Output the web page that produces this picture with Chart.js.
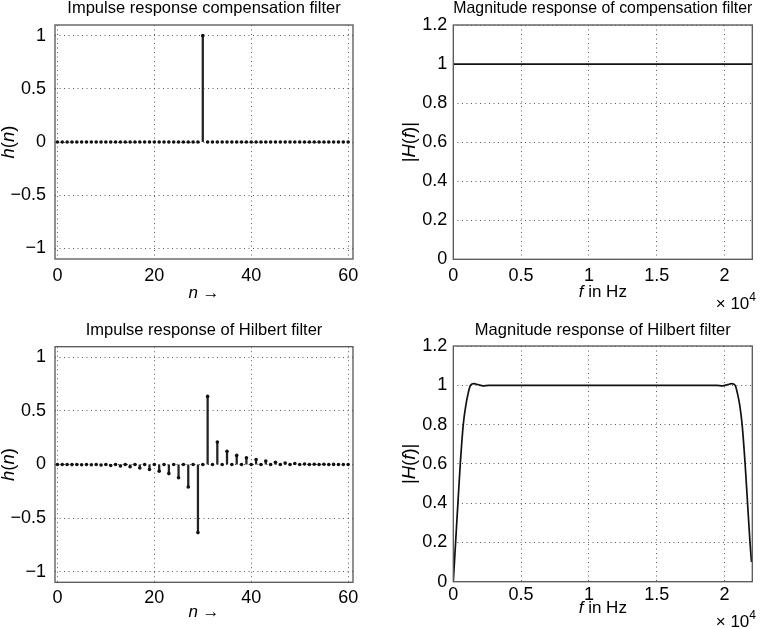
<!DOCTYPE html>
<html>
<head>
<meta charset="utf-8">
<script src="https://cdn.jsdelivr.net/npm/chart.js@4"></script>
<style>
  body { margin: 0; background: #fff; }
  #wrap { position: relative; width: 760px; height: 629px; }
  canvas { position: absolute; }
</style>
</head>
<body>
<div id="wrap">
  <canvas id="c1" width="380" height="320" style="left:0;top:0"></canvas>
  <canvas id="c2" width="380" height="320" style="left:380px;top:0"></canvas>
  <canvas id="c3" width="380" height="309" style="left:0;top:320px"></canvas>
  <canvas id="c4" width="380" height="309" style="left:380px;top:320px"></canvas>
</div>
<script>
// Sample index n
const nIndex = [0, 1, 2, 3, 4, 5, 6, 7, 8, 9, 10, 11, 12, 13, 14, 15, 16, 17, 18, 19, 20,
    21, 22, 23, 24, 25, 26, 27, 28, 29, 30, 31, 32, 33, 34, 35, 36, 37, 38, 39, 40,
    41, 42, 43, 44, 45, 46, 47, 48, 49, 50, 51, 52, 53, 54, 55, 56, 57, 58, 59, 60];

// Impulse response of compensation filter (delay)
const compImpulse = [0, 0, 0, 0, 0, 0, 0, 0, 0, 0, 0, 0, 0, 0, 0, 0, 0, 0, 0, 0, 0,
    0, 0, 0, 0, 0, 0, 0, 0, 0, 1, 0, 0, 0, 0, 0, 0, 0, 0, 0, 0,
    0, 0, 0, 0, 0, 0, 0, 0, 0, 0, 0, 0, 0, 0, 0, 0, 0, 0, 0, 0];

// Impulse response of Hilbert filter
const hilbertImpulse = [0, 0, 0, -0.001, 0, -0.002, 0, -0.003, 0, -0.005, 0,
    -0.009, 0, -0.014, 0, -0.021, 0, -0.032, 0, -0.046, 0,
    -0.062, 0, -0.085, 0, -0.124, 0, -0.21, 0, -0.636, 0,
    0.636, 0, 0.21, 0, 0.124, 0, 0.085, 0, 0.062, 0,
    0.046, 0, 0.032, 0, 0.021, 0, 0.014, 0, 0.009, 0,
    0.005, 0, 0.003, 0, 0.002, 0, 0.001, 0, 0, 0];

// Magnitude response of compensation filter
const compFreq = [0, 22050];
const compMag = [1, 1];

// Magnitude response of Hilbert filter
const hilbFreq = [0, 170, 340, 515, 735, 930, 1100, 1270, 1520, 1800, 2200, 2600,
    19450, 19850, 20250, 20530, 20780, 20950, 21120, 21300, 21520, 21700, 21880, 21990];
const hilbMag = [0, 0.2, 0.4, 0.6, 0.8, 0.9, 0.96, 1.0, 1.008, 1.004, 0.997, 1.0,
    1.0, 0.997, 1.004, 1.008, 1.0, 0.96, 0.9, 0.8, 0.6, 0.4, 0.2, 0.1];

// Tick labels
const nTicks = [0, 20, 40, 60];
const hTicks = [-1, -0.5, 0, 0.5, 1];
const fTicks = [0, 5000, 10000, 15000, 20000];
const magTicks = [0, 0.2, 0.4, 0.6, 0.8, 1, 1.2];

const FONT = '"Liberation Sans", Arial, Helvetica, sans-serif';
Chart.defaults.font.family = FONT;
Chart.defaults.color = '#000';

function fmt(v) {
    return String(Math.round(v * 10) / 10).replace('-', '\u2212');
}

// Draw text made of normal and italic pieces, centred at the origin
function drawSegs(ctx, segs, size) {
    let w = 0;
    segs.forEach(s => {
        ctx.font = (s[1] ? 'italic ' : '') + size + 'px ' + FONT;
        w += ctx.measureText(s[0]).width;
    });
    let x = -w / 2;
    segs.forEach(s => {
        ctx.font = (s[1] ? 'italic ' : '') + size + 'px ' + FONT;
        ctx.fillText(s[0], x, 0);
        x += ctx.measureText(s[0]).width;
    });
}

const richText = {
    id: 'richText',
    afterDraw(chart, args, opts) {
        const ctx = chart.ctx, a = chart.chartArea;
        ctx.save();
        ctx.fillStyle = '#000';
        ctx.textBaseline = 'middle';
        ctx.textAlign = 'left';
        ctx.save();
        ctx.translate((a.left + a.right) / 2, opts.xLabelY);
        drawSegs(ctx, opts.xLabel, 17);
        ctx.restore();
        ctx.save();
        ctx.translate(opts.yLabelX, (a.top + a.bottom) / 2);
        ctx.rotate(-Math.PI / 2);
        drawSegs(ctx, opts.yLabel, 18.5);
        ctx.restore();
        if (opts.exponent) {
            ctx.textAlign = 'right';
            ctx.font = '12px ' + FONT;
            ctx.fillText('4', 376, opts.expY - 6);
            const w4 = ctx.measureText('4').width;
            ctx.font = '17px ' + FONT;
            ctx.fillText('\u00d7 10', 376 - w4, opts.expY);
        }
        ctx.restore();
    }
};

const frame = {
    id: 'frame',
    afterDatasetsDraw(chart) {
        const ctx = chart.ctx, a = chart.chartArea;
        ctx.save();
        ctx.strokeStyle = '#555';
        ctx.lineWidth = 1.3;
        ctx.strokeRect(a.left, a.top, a.right - a.left, a.bottom - a.top);
        ctx.restore();
    }
};

function gridOpts() {
    return { color: '#333', lineWidth: 0.8, drawTicks: false, offset: false };
}

function baseScales(cfg) {
    return {
        x: {
            type: 'linear',
            min: cfg.xMin,
            max: cfg.xMax,
            offset: false,
            grid: gridOpts(),
            border: { display: false, dash: [1, 3.5] },
            ticks: {
                padding: cfg.xTickPad,
                font: { size: 18 },
                maxRotation: 0,
                autoSkip: false,
                callback: cfg.xFmt
            },
            afterBuildTicks: s => { s.ticks = cfg.xTicks.map(v => ({ value: v })); },
            afterFit: s => { s.height = cfg.xHeight; }
        },
        y: {
            type: 'linear',
            min: cfg.yMin,
            max: cfg.yMax,
            grid: gridOpts(),
            border: { display: false, dash: [1, 3.5] },
            ticks: { padding: cfg.yTickPad, font: { size: 18 }, autoSkip: false, callback: v => fmt(v) },
            afterBuildTicks: s => { s.ticks = cfg.yTicks.map(v => ({ value: v })); },
            afterFit: s => { s.width = cfg.yWidth; }
        }
    };
}

function basePlugins(cfg) {
    return {
        legend: { display: false },
        tooltip: { enabled: false },
        title: {
            display: true,
            fullSize: false,
            align: 'center',
            text: cfg.title,
            font: { size: 16.5, weight: 'normal', lineHeight: 1 },
            padding: { top: cfg.titleTop, bottom: cfg.titleBottom }
        },
        richText: cfg.rich
    };
}

function stemChart(id, values, cfg) {
    const pts = nIndex.map((n, i) => ({ x: n, y: values[i] }));
    return new Chart(document.getElementById(id), {
        type: 'bar',
        data: {
            datasets: [
                {
                    type: 'scatter',
                    data: pts,
                    pointRadius: 1.8,
                    pointBackgroundColor: '#111',
                    pointBorderWidth: 0,
                    order: 1
                },
                {
                    type: 'bar',
                    data: pts,
                    backgroundColor: '#222',
                    barThickness: 1.6,
                    grouped: false,
                    order: 2
                }
            ]
        },
        options: {
            responsive: false,
            animation: false,
            events: [],
            layout: { padding: { left: 0, right: 27, top: 0, bottom: 0 } },
            scales: baseScales(Object.assign({
                xMin: -0.5, xMax: 61, xTicks: nTicks, xFmt: v => String(v),
                yMin: -1.1, yMax: 1.1, yTicks: hTicks, yWidth: 55, yTickPad: 9
            }, cfg)),
            plugins: basePlugins(Object.assign({
                rich: {
                    xLabel: [['n', true], [' \u2192', false]],
                    yLabel: [['h', true], ['(', false], ['n', true], [')', false]],
                    xLabelY: cfg.xLabelY,
                    yLabelX: 9
                }
            }, cfg))
        },
        plugins: [frame, richText]
    });
}

function magChart(id, freq, mag, cfg) {
    return new Chart(document.getElementById(id), {
        type: 'line',
        data: {
            datasets: [{
                data: freq.map((f, i) => ({ x: f, y: mag[i] })),
                borderColor: '#111',
                borderWidth: 1.7,
                pointRadius: 0,
                fill: false,
                cubicInterpolationMode: 'monotone'
            }]
        },
        options: {
            responsive: false,
            animation: false,
            events: [],
            layout: { padding: { left: 0, right: 7.7, top: 0, bottom: 0 } },
            scales: baseScales(Object.assign({
                xMin: 0, xMax: 22050, xTicks: fTicks, xFmt: v => fmt(v / 10000),
                yMin: 0, yMax: 1.2, yTicks: magTicks, yWidth: 73.3, yTickPad: 6
            }, cfg)),
            plugins: basePlugins(Object.assign({
                rich: {
                    xLabel: [['f', true], [' in Hz', false]],
                    yLabel: [['|', false], ['H', true], ['(', false], ['f', true], [')|', false]],
                    xLabelY: cfg.xLabelY,
                    yLabelX: 30,
                    exponent: true,
                    expY: cfg.expY
                }
            }, cfg))
        },
        plugins: [frame, richText]
    });
}

stemChart('c1', compImpulse, {
    title: 'Impulse response compensation filter',
    titleTop: 0, titleBottom: 8.5, xHeight: 61, xTickPad: 6, xLabelY: 293
});
magChart('c2', compFreq, compMag, {
    title: 'Magnitude response of compensation filter',
    titleTop: 0, titleBottom: 8.5, xHeight: 60.7, xTickPad: 6, xLabelY: 292, expY: 304
});
stemChart('c3', hilbertImpulse, {
    title: 'Impulse response of Hilbert filter',
    titleTop: 2, titleBottom: 8.2, xHeight: 46.7, xTickPad: 5, xLabelY: 292
});
magChart('c4', hilbFreq, hilbMag, {
    title: 'Magnitude response of Hilbert filter',
    titleTop: 2, titleBottom: 7.5, xHeight: 47.3, xTickPad: 3, xLabelY: 288, expY: 302
});
</script>
</body>
</html>
